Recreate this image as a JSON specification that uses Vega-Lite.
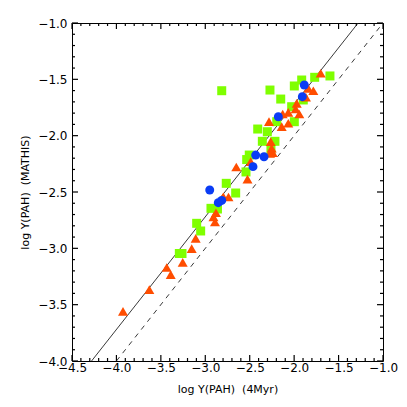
{
  "$schema": "https://vega.github.io/schema/vega-lite/v6.json",
  "width": 311,
  "height": 338,
  "autosize": {"type": "none"},
  "padding": {"left": 72, "top": 23, "right": 24, "bottom": 46},
  "background": "white",
  "config": {
    "view": {"stroke": "black", "strokeWidth": 1},
    "axis": {"grid": false, "domain": false, "labelColor": "black", "titleColor": "black", "labelFont": "DejaVu Sans", "titleFont": "DejaVu Sans", "labelFontSize": 12, "titleFontSize": 11, "titleFontWeight": "normal", "labelFlush": false, "labelOverlap": false, "tickColor": "black", "tickOpacity": 1, "tickWidth": 1}
  },
  "datasets": {
    "green": [
      {"x": -2.815, "y": -1.601}, {"x": -2.272, "y": -1.595}, {"x": -2.151, "y": -1.675}, {"x": -1.998, "y": -1.559},
      {"x": -1.915, "y": -1.506}, {"x": -1.769, "y": -1.482}, {"x": -1.597, "y": -1.470}, {"x": -1.897, "y": -1.683},
      {"x": -2.028, "y": -1.743}, {"x": -1.998, "y": -1.876}, {"x": -2.196, "y": -1.876}, {"x": -2.410, "y": -1.941},
      {"x": -2.302, "y": -1.965}, {"x": -2.358, "y": -2.050}, {"x": -2.216, "y": -2.050}, {"x": -2.261, "y": -2.127},
      {"x": -2.505, "y": -2.172}, {"x": -2.534, "y": -2.212}, {"x": -2.542, "y": -2.322}, {"x": -2.764, "y": -2.423},
      {"x": -2.658, "y": -2.509}, {"x": -2.936, "y": -2.645}, {"x": -2.863, "y": -2.651}, {"x": -3.097, "y": -2.778},
      {"x": -3.052, "y": -2.846}, {"x": -3.292, "y": -3.046}, {"x": -3.262, "y": -3.046}
    ],
    "orange": [
      {"x": -1.701, "y": -1.446}, {"x": -1.841, "y": -1.580}, {"x": -1.784, "y": -1.601}, {"x": -1.867, "y": -1.659},
      {"x": -1.971, "y": -1.713}, {"x": -1.983, "y": -1.763}, {"x": -1.942, "y": -1.808}, {"x": -2.066, "y": -1.793},
      {"x": -2.129, "y": -1.808}, {"x": -2.283, "y": -1.876}, {"x": -2.140, "y": -1.920}, {"x": -2.066, "y": -1.890},
      {"x": -2.264, "y": -2.053}, {"x": -2.253, "y": -2.112}, {"x": -2.241, "y": -2.151}, {"x": -2.272, "y": -2.157},
      {"x": -2.489, "y": -2.231}, {"x": -2.651, "y": -2.278}, {"x": -2.525, "y": -2.386}, {"x": -2.797, "y": -2.542},
      {"x": -2.739, "y": -2.544}, {"x": -2.880, "y": -2.684}, {"x": -2.908, "y": -2.722}, {"x": -2.891, "y": -2.766},
      {"x": -3.108, "y": -2.911}, {"x": -3.153, "y": -3.003}, {"x": -3.254, "y": -3.124}, {"x": -3.434, "y": -3.170},
      {"x": -3.389, "y": -3.234}, {"x": -3.630, "y": -3.367}, {"x": -3.926, "y": -3.559}
    ],
    "blue": [
      {"x": -1.886, "y": -1.550}, {"x": -1.908, "y": -1.654}, {"x": -2.178, "y": -1.832}, {"x": -2.433, "y": -2.172},
      {"x": -2.339, "y": -2.187}, {"x": -2.463, "y": -2.275}, {"x": -2.950, "y": -2.482}, {"x": -2.854, "y": -2.595},
      {"x": -2.815, "y": -2.575}
    ],
    "solid": [{"x": -4.28, "y": -4.0}, {"x": -1.28, "y": -1.0}],
    "dashed": [{"x": -4.0, "y": -4.0}, {"x": -1.0, "y": -1.0}],
    "xmajor": [{"v": -4.5}, {"v": -4.0}, {"v": -3.5}, {"v": -3.0}, {"v": -2.5}, {"v": -2.0}, {"v": -1.5}, {"v": -1.0}],
    "xminor": [{"v": -4.4}, {"v": -4.3}, {"v": -4.2}, {"v": -4.1}, {"v": -3.9}, {"v": -3.8}, {"v": -3.7}, {"v": -3.6}, {"v": -3.4}, {"v": -3.3}, {"v": -3.2}, {"v": -3.1}, {"v": -2.9}, {"v": -2.8}, {"v": -2.7}, {"v": -2.6}, {"v": -2.4}, {"v": -2.3}, {"v": -2.2}, {"v": -2.1}, {"v": -1.9}, {"v": -1.8}, {"v": -1.7}, {"v": -1.6}, {"v": -1.4}, {"v": -1.3}, {"v": -1.2}, {"v": -1.1}],
    "ymajor": [{"v": -4.0}, {"v": -3.5}, {"v": -3.0}, {"v": -2.5}, {"v": -2.0}, {"v": -1.5}, {"v": -1.0}],
    "yminor": [{"v": -3.9}, {"v": -3.8}, {"v": -3.7}, {"v": -3.6}, {"v": -3.4}, {"v": -3.3}, {"v": -3.2}, {"v": -3.1}, {"v": -2.9}, {"v": -2.8}, {"v": -2.7}, {"v": -2.6}, {"v": -2.4}, {"v": -2.3}, {"v": -2.2}, {"v": -2.1}, {"v": -1.9}, {"v": -1.8}, {"v": -1.7}, {"v": -1.6}, {"v": -1.4}, {"v": -1.3}, {"v": -1.2}, {"v": -1.1}]
  },
  "layer": [
    {
      "data": {"name": "xmajor"},
      "mark": {"type": "rule", "stroke": "black", "strokeOpacity": 1, "opacity": 1, "strokeWidth": 1.2, "y2Offset": -6},
      "encoding": {"x": {"field": "v", "type": "quantitative", "scale": {"domain": [-4.5, -1.0], "nice": false, "zero": false},
              "axis": {"orient": "bottom", "values": [-4.5,-4.0,-3.5,-3.0,-2.5,-2.0,-1.5,-1.0], "ticks": false, "labelPadding": 1, "title": "log Y(PAH)\u00a0 (4Myr)", "titlePadding": 10}},
                   "y": {"datum": -4.0, "scale": {"domain": [-4.0, -1.0], "nice": false, "zero": false},
              "axis": {"orient": "left", "values": [-4.0,-3.5,-3.0,-2.5,-2.0,-1.5,-1.0], "ticks": false, "labelPadding": 5, "title": "log Y(PAH)\u00a0 (MATHIS)", "titlePadding": 7}},
                   "y2": {"datum": -4.0}}
    },
    {
      "data": {"name": "xmajor"},
      "mark": {"type": "rule", "stroke": "black", "strokeOpacity": 1, "opacity": 1, "strokeWidth": 1.2, "y2Offset": 6},
      "encoding": {"x": {"field": "v", "type": "quantitative"}, "y": {"datum": -1.0}, "y2": {"datum": -1.0}}
    },
    {
      "data": {"name": "xminor"},
      "mark": {"type": "rule", "stroke": "black", "strokeOpacity": 1, "opacity": 1, "strokeWidth": 1.2, "y2Offset": -3},
      "encoding": {"x": {"field": "v", "type": "quantitative"}, "y": {"datum": -4.0}, "y2": {"datum": -4.0}}
    },
    {
      "data": {"name": "xminor"},
      "mark": {"type": "rule", "stroke": "black", "strokeOpacity": 1, "opacity": 1, "strokeWidth": 1.2, "y2Offset": 3},
      "encoding": {"x": {"field": "v", "type": "quantitative"}, "y": {"datum": -1.0}, "y2": {"datum": -1.0}}
    },
    {
      "data": {"name": "ymajor"},
      "mark": {"type": "rule", "stroke": "black", "strokeOpacity": 1, "opacity": 1, "strokeWidth": 1.2, "x2Offset": 6},
      "encoding": {"y": {"field": "v", "type": "quantitative"}, "x": {"datum": -4.5}, "x2": {"datum": -4.5}}
    },
    {
      "data": {"name": "ymajor"},
      "mark": {"type": "rule", "stroke": "black", "strokeOpacity": 1, "opacity": 1, "strokeWidth": 1.2, "x2Offset": -6},
      "encoding": {"y": {"field": "v", "type": "quantitative"}, "x": {"datum": -1.0}, "x2": {"datum": -1.0}}
    },
    {
      "data": {"name": "yminor"},
      "mark": {"type": "rule", "stroke": "black", "strokeOpacity": 1, "opacity": 1, "strokeWidth": 1.2, "x2Offset": 3},
      "encoding": {"y": {"field": "v", "type": "quantitative"}, "x": {"datum": -4.5}, "x2": {"datum": -4.5}}
    },
    {
      "data": {"name": "yminor"},
      "mark": {"type": "rule", "stroke": "black", "strokeOpacity": 1, "opacity": 1, "strokeWidth": 1.2, "x2Offset": -3},
      "encoding": {"y": {"field": "v", "type": "quantitative"}, "x": {"datum": -1.0}, "x2": {"datum": -1.0}}
    },
    {
      "data": {"name": "solid"},
      "mark": {"type": "line", "color": "#222222", "strokeWidth": 0.9, "clip": true},
      "encoding": {"x": {"field": "x", "type": "quantitative"}, "y": {"field": "y", "type": "quantitative"}}
    },
    {
      "data": {"name": "dashed"},
      "mark": {"type": "line", "color": "#222222", "strokeWidth": 0.9, "strokeDash": [5, 5], "clip": true},
      "encoding": {"x": {"field": "x", "type": "quantitative"}, "y": {"field": "y", "type": "quantitative"}}
    },
    {
      "data": {"name": "green"},
      "mark": {"type": "point", "shape": "square", "filled": true, "size": 81, "color": "#7FFF00", "opacity": 1},
      "encoding": {"x": {"field": "x", "type": "quantitative"}, "y": {"field": "y", "type": "quantitative"}}
    },
    {
      "data": {"name": "orange"},
      "mark": {"type": "point", "shape": "triangle-up", "filled": true, "size": 100, "color": "#FF4D00", "opacity": 1},
      "encoding": {"x": {"field": "x", "type": "quantitative"}, "y": {"field": "y", "type": "quantitative"}}
    },
    {
      "data": {"name": "blue"},
      "mark": {"type": "point", "shape": "circle", "filled": true, "size": 80, "color": "#0A3CF5", "opacity": 1},
      "encoding": {"x": {"field": "x", "type": "quantitative"}, "y": {"field": "y", "type": "quantitative"}}
    }
  ]
}
